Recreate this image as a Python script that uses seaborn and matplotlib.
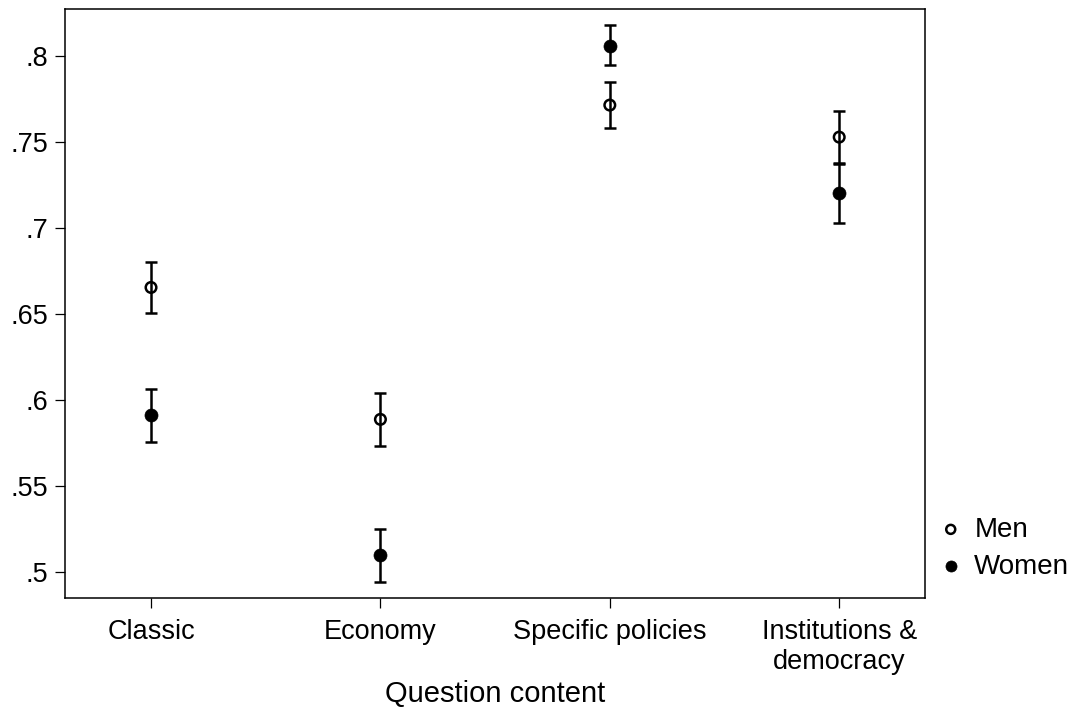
import numpy as np
import pandas as pd
import matplotlib
matplotlib.use("Agg")
import matplotlib.pyplot as plt
from matplotlib.ticker import FuncFormatter
import seaborn as sns

# ---- data ----
categories = ["Classic", "Economy", "Specific policies", "Institutions &\ndemocracy"]
men_mean = [0.6655, 0.5889, 0.7714, 0.7528]
men_lo = [0.6507, 0.5734, 0.7581, 0.7378]
men_hi = [0.6805, 0.6044, 0.7850, 0.7679]
women_mean = [0.5914, 0.5099, 0.8059, 0.7202]
women_lo = [0.5760, 0.4946, 0.7947, 0.7029]
women_hi = [0.6068, 0.5252, 0.8179, 0.7372]
y_ticks = [0.5, 0.55, 0.6, 0.65, 0.7, 0.75, 0.8]
x_label = "Question content"
series_labels = ["Men", "Women"]

sns.set_theme(style="ticks")
plt.rcParams["font.family"] = ["Liberation Sans", "DejaVu Sans"]
plt.rcParams["text.color"] = "black"
plt.rcParams["axes.labelcolor"] = "black"
plt.rcParams["xtick.color"] = "black"
plt.rcParams["ytick.color"] = "black"

fig = plt.figure(figsize=(10.73, 7.11), dpi=100)
ax = fig.add_axes([65 / 1073, 1 - 598.3 / 711, (925 - 65) / 1073, (598.3 - 9) / 711])

df = pd.DataFrame({
    "category": categories * 2,
    "mean": men_mean + women_mean,
    "lo": men_lo + women_lo,
    "hi": men_hi + women_hi,
    "group": [series_labels[0]] * len(categories) + [series_labels[1]] * len(categories),
})

# error bars
for g in series_labels:
    sub = df[df["group"] == g]
    ax.errorbar(sub["category"], sub["mean"],
                yerr=[sub["mean"] - sub["lo"], sub["hi"] - sub["mean"]],
                fmt="none", ecolor="black", elinewidth=1.8, capsize=4.6,
                capthick=1.8, zorder=2)

men = df[df["group"] == "Men"]
women = df[df["group"] == "Women"]
sns.scatterplot(data=men, x="category", y="mean", ax=ax, s=58, facecolor="none",
                edgecolor="black", linewidth=1.8, zorder=3, label="Men")
sns.scatterplot(data=women, x="category", y="mean", ax=ax, s=88, color="black",
                edgecolor="black", linewidth=0.5, zorder=3, label="Women")

ax.set_xlim(-0.375, 3.374)
ax.set_ylim(0.485, 0.8272)
ax.set_yticks(y_ticks)
ax.yaxis.set_major_formatter(FuncFormatter(lambda v, p: f"{v:g}".lstrip("0")))

ax.set_xlabel(x_label, fontsize=21, labelpad=3.6)
ax.set_ylabel("")
ax.tick_params(axis="both", labelsize=19.5, length=7, width=0.9, direction="out")
ax.tick_params(axis="y", pad=5)
ax.tick_params(axis="x", pad=8)
for s in ax.spines.values():
    s.set_visible(True)
    s.set_linewidth(1.1)
    s.set_color("black")

handles, labels = ax.get_legend_handles_labels()
ax.legend(handles, labels, loc="center left", bbox_to_anchor=(1.017, 0.085),
          frameon=False, fontsize=20, handlelength=0.8, handletextpad=0.45,
          borderpad=0, borderaxespad=0, labelspacing=0.40, markerscale=0.85)

fig.savefig("out.png", dpi=100)
